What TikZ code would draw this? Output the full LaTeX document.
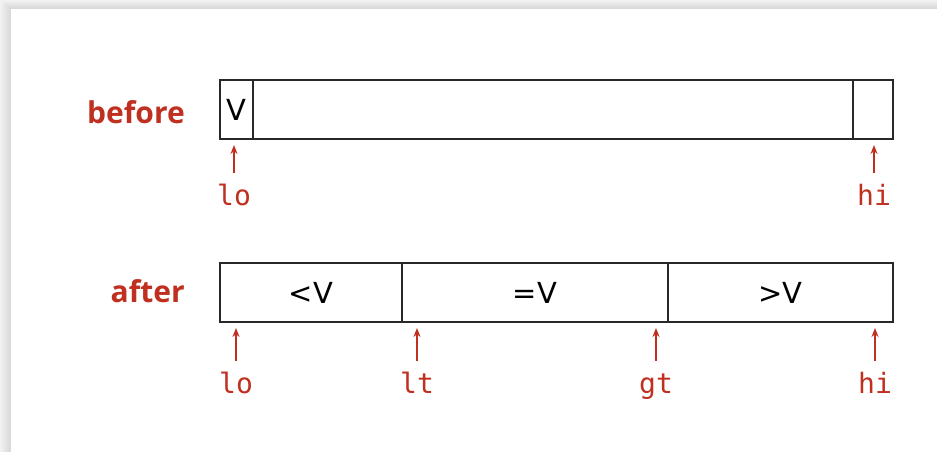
\documentclass[tikz,border=0pt]{standalone}
\usepackage{fontspec}
\setmainfont{DejaVu Sans}
\newfontfamily\namefont{Open Sans}
\setmonofont{DejaVu Sans Mono}
\usetikzlibrary{arrows.meta}
\definecolor{ptrred}{RGB}{192,48,32}
\definecolor{cellgray}{RGB}{40,40,40}

\begin{document}
\begin{tikzpicture}[x=1pt,y=-1pt,
    cell/.style={draw=cellgray,line width=2.6pt,inner sep=0pt,outer sep=0pt,
      minimum height=59pt,font=\fontsize{29}{29}\selectfont},
    rowname/.style={text=ptrred,anchor=base east,inner sep=0pt,
      font=\namefont\bfseries\fontsize{30}{30}\selectfont},
    idx/.style={text=ptrred,anchor=base,inner sep=0pt,text height=21pt,
      font=\ttfamily\fontsize{28}{28}\selectfont},
    ptr/.style={draw=ptrred,line width=2pt,-{Stealth[length=9pt,width=7pt]},
      shorten <=11pt,shorten >=6pt}]
    \useasboundingbox (0,0) rectangle (937,452);
    % card shadow
    \foreach \i in {0,...,10} {
        \pgfmathtruncatemacro\c{5+\i}
        \fill[black!\c] (\i,0.8*\i) rectangle (937,452);
    }
    \fill[white] (11,9) rectangle (937,452);
    % before
    \node[rowname] (before) at (185,123) {before};
    \node[cell,minimum width=33pt] (bv) at (236.5,109.5) {V};
    \node[cell,minimum width=600pt] (bmid) at (553,109.5) {};
    \node[cell,minimum width=40pt] (bhi) at (873,109.5) {};
    \node[idx] (blo) at (234,205) {lo};
    \node[idx] (bhiptr) at (874,205) {hi};
    \draw[ptr] (blo.north) -- (blo.north |- bv.south);
    \draw[ptr] (bhiptr.north) -- (bhiptr.north |- bhi.south);
    % after
    \node[rowname] (after) at (185,302) {after};
    \node[cell,minimum width=182pt] (aless) at (311,292.5) {<V};
    \node[cell,minimum width=266pt] (aeq) at (535,292.5) {=V};
    \node[cell,minimum width=225pt] (agreat) at (780.5,292.5) {>V};
    \node[idx] (alo) at (236,393) {lo};
    \node[idx] (alt) at (417,393) {lt};
    \node[idx] (agt) at (656,393) {gt};
    \node[idx] (ahi) at (875,393) {hi};
    \draw[ptr] (alo.north) -- (alo.north |- aless.south);
    \draw[ptr] (alt.north) -- (alt.north |- aeq.south);
    \draw[ptr] (agt.north) -- (agt.north |- aeq.south);
    \draw[ptr] (ahi.north) -- (ahi.north |- agreat.south);
\end{tikzpicture}
\end{document}
